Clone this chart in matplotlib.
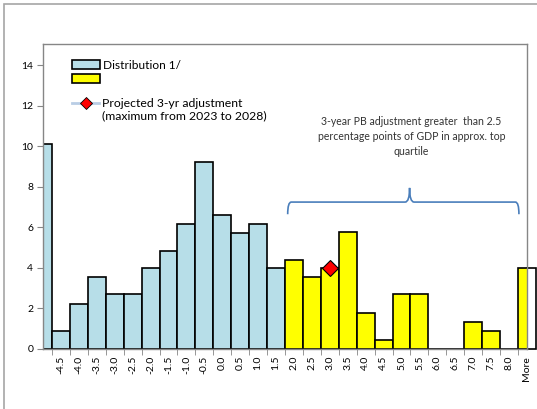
import matplotlib.pyplot as plt
import numpy as np
from matplotlib.patches import Patch, Rectangle
from matplotlib.lines import Line2D
from matplotlib.path import Path
from matplotlib.patches import PathPatch

plt.rcParams['font.family'] = ['Lato', 'DejaVu Sans']

# bins (first bin has no visible label, it sits half outside the plot)
bins = [''] + ['%.1f' % v for v in np.arange(-4.5, 8.01, 0.5)] + ['More']
counts = [10.1, 0.9, 2.2, 3.55, 2.7, 2.7, 4.0, 4.85, 6.15, 9.25, 6.6, 5.7, 6.15, 4.0,
          4.4, 3.55, 4.0, 5.75, 1.8, 0.45, 2.7, 2.7, 0, 0, 1.35, 0.9, 0, 4.0]
n_blue = 14  # bins up to 1.5 are blue, the rest yellow
proj_bin = '3.0'
proj_value = 4.0

blue = '#B7DEE8'
yellow = '#FFFF00'
grey = '#868686'

fig = plt.figure(figsize=(5.37, 4.09), dpi=100)
ax = fig.add_axes([43 / 537, 60 / 409, 484 / 537, 305 / 409])

x = np.arange(len(bins))
colors = [blue] * n_blue + [yellow] * (len(bins) - n_blue)
ax.bar(x, counts, width=1.0, color=colors, edgecolor='black', linewidth=1.2, zorder=2)

# the last bar spills past the plot area in the original
ax.add_patch(Rectangle((x[-1], 0), 0.5, counts[-1], facecolor='white', edgecolor='black',
                       linewidth=1.2, clip_on=False, zorder=1))

# projected adjustment marker
px = bins.index(proj_bin)
ax.plot([px], [proj_value], marker='D', markersize=8.5, color='red',
        markeredgecolor='black', markeredgewidth=0.8, linestyle='none', zorder=4)

ax.set_xlim(0, len(bins) - 1)
ax.set_ylim(0, 15.05)
ax.set_yticks(range(0, 15, 2))
ax.set_xticks(x[1:])
ax.set_xticklabels(bins[1:], rotation=90, fontsize=7.5)
ax.set_xticks(x[:-1] + 0.5, minor=True)
ax.tick_params(axis='x', which='major', length=0, pad=5)
ax.tick_params(axis='x', which='minor', length=4, color=grey, direction='out')
ax.tick_params(axis='y', length=4, color=grey, labelsize=7.5, pad=3)
for s in ax.spines.values():
    s.set_color(grey)
    s.set_linewidth(1.0)

# brace over the top quartile bins
x0, x1 = 13.65, 26.55
xm = 20.45
yb, yh, yp = 6.65, 7.25, 7.95
verts = [(x0, yb), (x0, yh), (x0 + 0.2, yh),
         (xm - 0.25, yh), (xm, yh), (xm, yp),
         (xm, yh), (xm + 0.25, yh),
         (x1 - 0.2, yh), (x1, yh), (x1, yb)]
codes = [Path.MOVETO, Path.CURVE3, Path.CURVE3,
         Path.LINETO, Path.CURVE3, Path.CURVE3,
         Path.CURVE3, Path.CURVE3,
         Path.LINETO, Path.CURVE3, Path.CURVE3]
ax.add_patch(PathPatch(Path(verts, codes), facecolor='none', edgecolor='#4A7EBB', linewidth=1.2))

ax.text(xm + 0.1, 11.5, '3-year PB adjustment greater  than 2.5\npercentage points of GDP in approx. top\nquartile',
        ha='center', va='top', fontsize=7.6, color='#333333', linespacing=1.42)

# legends
h1 = [Patch(facecolor=blue, edgecolor='black', linewidth=1.2),
      Patch(facecolor=yellow, edgecolor='black', linewidth=1.2)]
leg1 = ax.legend(h1, ['Distribution 1/', ''], loc='upper left', bbox_to_anchor=(0.048, 0.967),
                 frameon=False, fontsize=8.6, handlelength=2.3, handleheight=0.75,
                 handletextpad=0.25, labelspacing=0.2, borderpad=0)
ax.add_artist(leg1)
h2 = [Line2D([], [], color='#B9CDE5', linewidth=2, marker='D', markersize=6,
             markerfacecolor='red', markeredgecolor='black', markeredgewidth=0.6),
      Line2D([], [], linestyle='none')]
ax.legend(h2, ['Projected 3-yr adjustment', '(maximum from 2023 to 2028)'], loc='upper left',
          bbox_to_anchor=(0.048, 0.842), frameon=False, fontsize=8.8, handlelength=2.2,
          handletextpad=0.25, labelspacing=0.12, borderpad=0)

# outer chart frame
fig.add_artist(Rectangle((4 / 537, -0.1), 1.2, 1.1 - 4 / 409, transform=fig.transFigure,
                         fill=False, edgecolor='#A6A6A6', linewidth=1.2))

fig.savefig('out.png', dpi=100)
